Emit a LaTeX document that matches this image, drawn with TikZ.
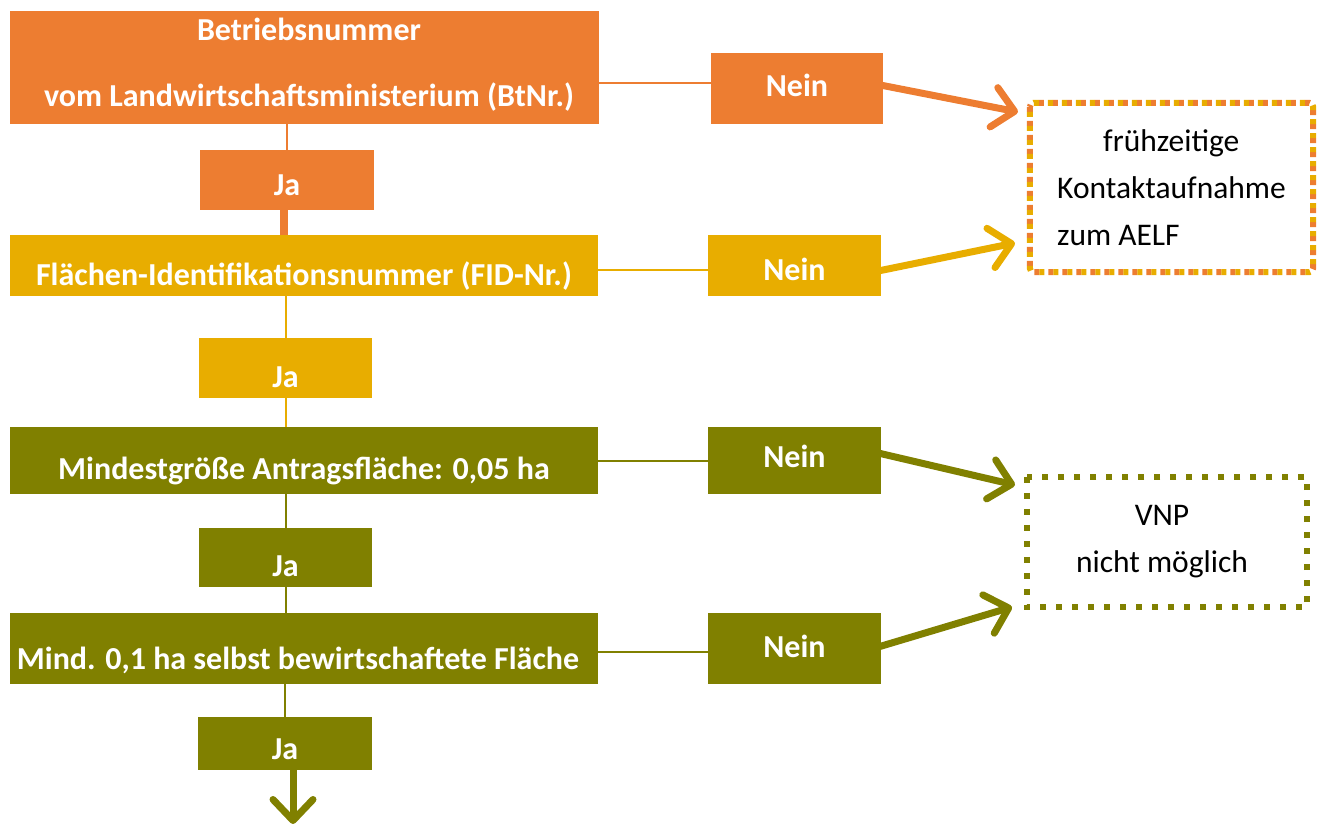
\documentclass[tikz,border=0pt]{standalone}
\usepackage{fontspec}
\setmainfont{Carlito}
\usetikzlibrary{arrows.meta}
\definecolor{cOr}{HTML}{ED7D31}
\definecolor{cGo}{HTML}{E8AD00}
\definecolor{cOl}{HTML}{808000}
\newcommand{\lowtxt}[2]{\raisebox{-#1pt}[0pt][0pt]{#2}}
\begin{document}
\begin{tikzpicture}[x=1pt,y=-1pt,
  fbox/.style={fill=#1, draw=none, inner sep=0pt, text=white,
    font=\bfseries\fontsize{32}{38}\selectfont},
  conn/.style={draw=#1, line width=2pt},
  thickconn/.style={draw=#1, line width=8pt},
  bigarrow/.style={draw=#1, line width=7pt,
    -{Straight Barb[length=21pt,width=40pt,line cap=round,line join=round]}},
  outbox/.style={inner sep=0pt, text=black, font=\fontsize{31.5}{47}\selectfont},
  dotline/.style={line width=6pt, draw=#1}
]
\useasboundingbox (0,0) rectangle (1323,824);

% main boxes
\node[fbox=cOr, minimum width=589pt, minimum height=113pt] (b1) at (304.5,67.5)
  {\lowtxt{-26.8}{\hspace*{9pt}\makebox[0pt]{Betriebsnummer}}\lowtxt{39.5}{\makebox[0pt]{vom Landwirtschaftsministerium (BtNr.)}}};
\node[fbox=cOr, minimum width=172pt, minimum height=71pt] (n1) at (797,88.5) {\lowtxt{8.5}{Nein}};
\node[fbox=cOr, minimum width=174pt, minimum height=60pt] (j1) at (287,180) {\lowtxt{16}{Ja}};

\node[fbox=cGo, minimum width=588pt, minimum height=61pt] (b2) at (304,265.5)
  {\lowtxt{19.5}{Flächen-Identifikationsnummer (FID-Nr.)}};
\node[fbox=cGo, minimum width=173pt, minimum height=61pt] (n2) at (794.5,265.5) {\lowtxt{14.5}{Nein}};
\node[fbox=cGo, minimum width=173pt, minimum height=60pt] (j2) at (285.5,368) {\lowtxt{19}{Ja}};

\node[fbox=cOl, minimum width=588pt, minimum height=67pt] (b3) at (304,460.5)
  {\lowtxt{18.5}{Mindestgröße Antragsfläche: 0,05 ha}};
\node[fbox=cOl, minimum width=173pt, minimum height=67pt] (n3) at (794.5,460.5) {\lowtxt{6.5}{Nein}};
\node[fbox=cOl, minimum width=173pt, minimum height=59pt] (j3) at (285.5,557.5) {\lowtxt{18.5}{Ja}};

\node[fbox=cOl, minimum width=588pt, minimum height=71pt] (b4) at (304,648.5)
  {\lowtxt{20.5}{Mind. 0,1 ha selbst bewirtschaftete Fläche\hspace*{12pt}}};
\node[fbox=cOl, minimum width=173pt, minimum height=71pt] (n4) at (794.5,648.5) {\lowtxt{8.5}{Nein}};
\node[fbox=cOl, minimum width=174pt, minimum height=53pt] (j4) at (285,743.5) {\lowtxt{15.5}{Ja}};

% outcome boxes
\node[outbox, minimum width=283pt, minimum height=169pt, align=left] (aelf) at (1171.5,187.5)
  {\hspace*{46pt}frühzeitige\\Kontaktaufnahme\\zum AELF};
\draw[dotline=cOr, dash pattern=on 5pt off 9pt, rounded corners=4pt]
  (aelf.north west) rectangle (aelf.south east);
\draw[dotline=cGo, dash pattern=on 5pt off 9pt, dash phase=9pt, rounded corners=4pt]
  (aelf.north west) rectangle (aelf.south east);

\node[outbox, minimum width=280pt, minimum height=130pt, align=center] (vnp) at (1167,542)
  {\fontsize{31.5}{45}\selectfont VNP\hspace*{10pt}\\nicht möglich\hspace*{10pt}};
\draw[dotline=cOl, dash pattern=on 6pt off 10pt]
  (vnp.north west) rectangle (vnp.south east);

% vertical connectors
\draw[conn=cOr] (j1.north |- b1.south) -- (j1.north);
\draw[thickconn=cOr] ([xshift=-3pt]j1.south) -- ([xshift=-3pt]j1.south |- b2.north);
\draw[conn=cGo] (j2.north |- b2.south) -- (j2.north);
\draw[conn=cGo] (j2.south) -- (j2.south |- b3.north);
\draw[conn=cOl] (j3.north |- b3.south) -- (j3.north);
\draw[conn=cOl] (j3.south) -- (j3.south |- b4.north);
\draw[conn=cOl] (j4.north |- b4.south) -- (j4.north);

% horizontal connectors
\draw[conn=cOr] ([yshift=-15.5pt]b1.east) -- ([yshift=-15.5pt]b1.east -| n1.west);
\draw[conn=cGo] ([yshift=-4.5pt]b2.east) -- ([yshift=-4.5pt]b2.east -| n2.west);
\draw[conn=cOl] (b3.east) -- (b3.east -| n3.west);
\draw[conn=cOl] ([yshift=-3.5pt]b4.east) -- ([yshift=-3.5pt]b4.east -| n4.west);

% arrows to outcomes
\coordinate (t1) at (1018,112);
\coordinate (t2) at (1015,243);
\coordinate (t3) at (1015,485);
\coordinate (t4) at (1012,607);
\coordinate (t5) at (293,824);
\draw[bigarrow=cOr] ([xshift=-3pt,yshift=3.5pt]n1.east) -- (t1);
\draw[bigarrow=cGo] ([xshift=-3pt,yshift=-5.5pt]n2.east) -- (t2);
\draw[bigarrow=cOl] ([xshift=-3pt,yshift=7.5pt]n3.east) -- (t3);
\draw[bigarrow=cOl] ([xshift=-3pt,yshift=1.5pt]n4.east) -- (t4);
\draw[bigarrow=cOl] ([xshift=8pt,yshift=3pt]j4.south) -- (t5);
\end{tikzpicture}
\end{document}
